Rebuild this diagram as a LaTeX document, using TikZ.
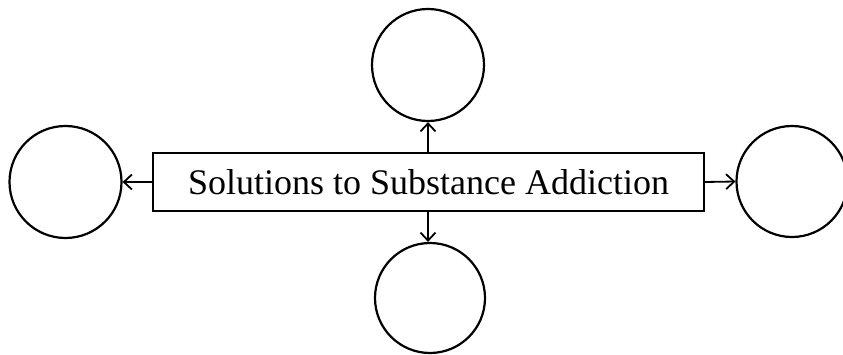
\documentclass[tikz,border=0pt]{standalone}
\usepackage{fontspec}
\setmainfont{Liberation Serif}
\usetikzlibrary{arrows.meta}
\begin{document}
\begin{tikzpicture}[x=1pt,y=1pt,
  ring/.style={circle,draw,line width=2.2pt,inner sep=0pt},
  mainbox/.style={draw,line width=2pt,minimum width=551pt,minimum height=58pt,inner sep=0pt,font=\fontsize{36}{40}\selectfont},
  conn/.style={line width=1.8pt,-{Straight Barb[length=8pt,width=15pt,line width=1.8pt]}}]
\useasboundingbox (0,0) rectangle (843,354);
\clip (0,0) rectangle (843,354);
\node[mainbox] (box) at (428.5,172) {Solutions to Substance Addiction};
\node[ring,minimum size=112pt] (top) at (428,289) {};
\node[ring,minimum size=110pt] (bot) at (430,56) {};
\node[ring,minimum size=112pt] (left) at (65.5,172) {};
\node[ring,minimum size=111pt] (right) at (792,172.5) {};
\draw[conn] (box.north -| top.south) -- (top.south);
\draw[conn] (box.south -| top.south) -- (bot.north -| top.south);
\draw[conn] (box.west) -- (left.east);
\draw[conn] (box.east) -- (right.west);
\end{tikzpicture}
\end{document}
